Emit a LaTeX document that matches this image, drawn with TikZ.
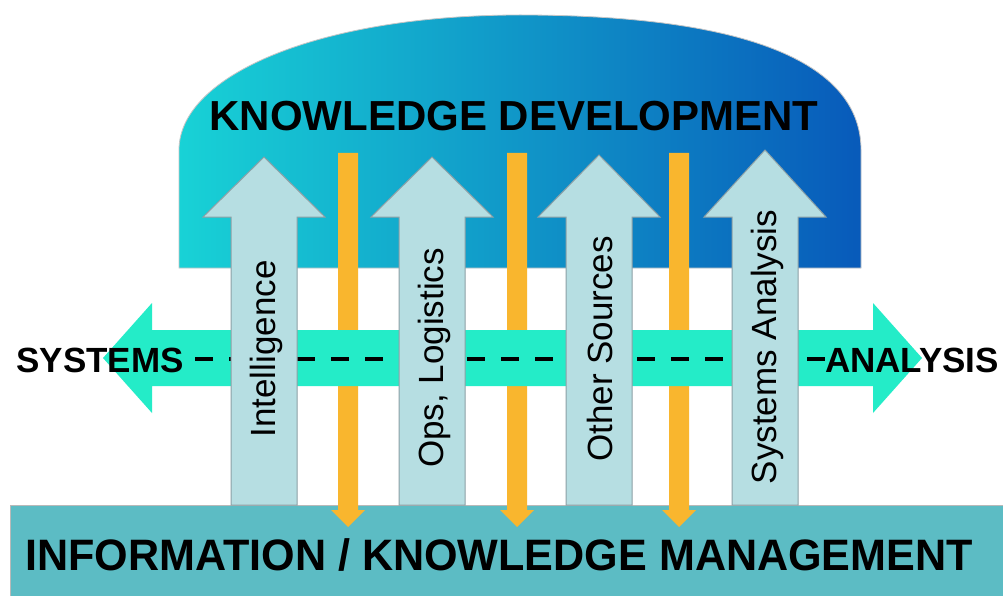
\documentclass[tikz,border=0pt]{standalone}
\usepackage{fontspec}
\setmainfont{Liberation Sans}
\definecolor{domeL}{RGB}{24,210,214}
\definecolor{domeM}{RGB}{12,172,226}
\definecolor{domeR}{RGB}{8,90,186}
\definecolor{barC}{RGB}{92,188,196}
\definecolor{bandC}{RGB}{36,236,200}
\definecolor{upC}{RGB}{182,222,226}
\definecolor{upB}{RGB}{140,160,166}
\definecolor{orC}{RGB}{249,182,46}
\begin{document}
\begin{tikzpicture}[x=1pt,y=-1pt,
  biglbl/.style={font=\bfseries\fontsize{42}{48}\selectfont, inner sep=0pt, anchor=base},
  sidelbl/.style={font=\bfseries\fontsize{35}{40}\selectfont, inner sep=0pt, anchor=base},
  uplbl/.style={rotate=90, font=\fontsize{35}{40}\selectfont, inner sep=0pt},
  uparrow/.style={fill=upC, draw=upB, line width=1pt},
  downarrow/.style={fill=orC},
]
\useasboundingbox (0,0) rectangle (1003,596);
\fill[white] (0,0) rectangle (1003,596);

% dome
\shadedraw[left color=domeL, middle color=domeM, right color=domeR, draw=gray!45, line width=0.8pt]
  (179,268) -- (179,150) .. controls (179,75) and (320,15) .. (520,15)
  .. controls (740,15) and (861,60) .. (861,150) -- (861,268) -- cycle;

% bottom bar
\filldraw[fill=barC, draw=gray!55, line width=0.8pt] (10,505) rectangle (1010,604);

% orange down arrows
\foreach \cx in {348,517,679}
  \fill[downarrow] (\cx-10,153) -- (\cx+10,153) -- (\cx+10,510) -- (\cx+17,510)
    -- (\cx,527) -- (\cx-17,510) -- (\cx-10,510) -- cycle;

% horizontal double arrow band
\fill[bandC] (103,358) -- (152,303) -- (152,330) -- (873,330) -- (873,303) -- (922,358)
  -- (873,413) -- (873,386) -- (152,386) -- (152,413) -- cycle;

% dashed line
\draw[line width=3.3pt, dash pattern=on 18pt off 16pt] (195,359) -- (825,359);

% up arrows
\foreach \cx/\tp in {264/157, 432/157, 599/155, 765/150}
  \filldraw[uparrow] (\cx-33,505) -- (\cx-33,217) -- (\cx-61,217) -- (\cx,\tp)
    -- (\cx+61,217) -- (\cx+33,217) -- (\cx+33,505) -- cycle;

% labels
\node[uplbl] (lint) at (266,349) {Intelligence};
\node[uplbl] (lops) at (434,358) {Ops, Logistics};
\node[uplbl] (loth) at (600,349) {Other Sources};
\node[uplbl] (lsys) at (767,347) {Systems Analysis};

\node[biglbl] (kd) at (514,131) {KNOWLEDGE DEVELOPMENT};
\node[biglbl, font=\bfseries\fontsize{44}{50}\selectfont, xscale=0.98] (ikm) at (499,570) {INFORMATION / KNOWLEDGE MANAGEMENT};
\node[sidelbl] (sys) at (100,372) {SYSTEMS};
\node[sidelbl] (ana) at (912,372) {ANALYSIS};
\end{tikzpicture}
\end{document}
